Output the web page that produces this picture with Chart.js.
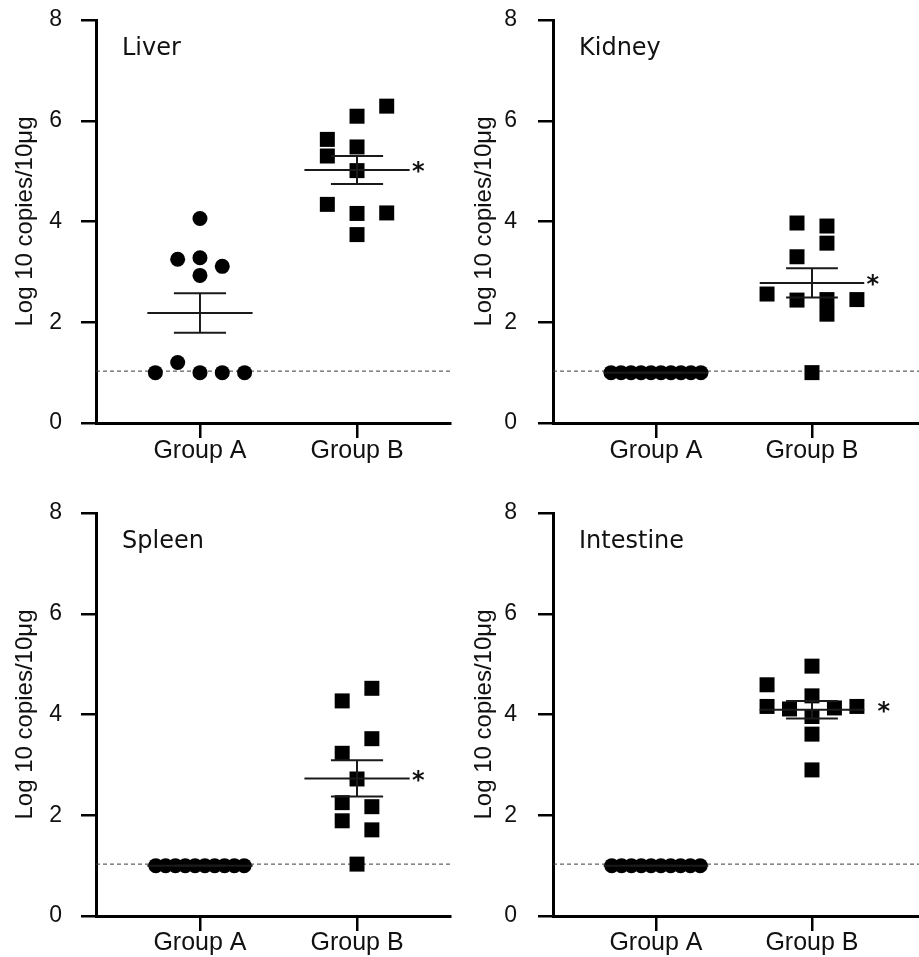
<!DOCTYPE html>
<html>
<head>
<meta charset="utf-8">
<title>Viral load by organ</title>
<script src="https://cdn.jsdelivr.net/npm/chart.js@4.4.1/dist/chart.umd.min.js"></script>
<style>
  html, body { margin: 0; padding: 0; background: #fff; overflow: hidden; }
  #figure { position: relative; width: 919px; height: 957px; }
  #figure canvas { position: absolute; }
</style>
</head>
<body>
<div id="figure">
  <canvas id="liver" width="459" height="478" style="left:0;top:0"></canvas>
  <canvas id="kidney" width="460" height="478" style="left:459px;top:0"></canvas>
  <canvas id="spleen" width="459" height="479" style="left:0;top:478px"></canvas>
  <canvas id="intestine" width="460" height="479" style="left:459px;top:478px"></canvas>
</div>
<script>
// Categories and axis
const groups = ["Group A", "Group B"]
const yTicks = [0, 2, 4, 6, 8]
const yTitle = "Log 10 copies/10μg"
const detectionLimit = 1.03

// Log10 copies per 10 µg (n = 10 per group)
const liverA = [4.06, 3.25, 3.28, 3.11, 2.93, 1.20, 1.00, 1.00, 1.00, 1.00]
const liverB = [6.29, 6.09, 5.63, 5.48, 5.30, 5.01, 4.34, 4.16, 4.17, 3.74]
const kidneyA = [1.00, 1.00, 1.00, 1.00, 1.00, 1.00, 1.00, 1.00, 1.00, 1.00]
const kidneyB = [3.97, 3.91, 3.57, 3.30, 2.56, 2.44, 2.45, 2.16, 2.45, 1.00]
const spleenA = [1.00, 1.00, 1.00, 1.00, 1.00, 1.00, 1.00, 1.00, 1.00, 1.00]
const spleenB = [4.52, 4.27, 3.52, 3.23, 2.72, 2.25, 2.17, 1.89, 1.71, 1.03]
const intestineA = [1.00, 1.00, 1.00, 1.00, 1.00, 1.00, 1.00, 1.00, 1.00, 1.00]
const intestineB = [4.96, 4.59, 4.37, 4.16, 4.11, 4.13, 4.16, 3.96, 3.61, 2.90]

// Dot column of each point inside its group, as laid out in the figure
const liverACols = [0, -1, 0, 1, 0, -1, -2, 0, 1, 2]
const liverBCols = [1, 0, -1, 0, -1, 0, -1, 0, 1, 0]
const kidneyACols = [-4.5, -3.5, -2.5, -1.5, -0.5, 0.5, 1.5, 2.5, 3.5, 4.5]
const kidneyBCols = [-0.5, 0.5, 0.5, -0.5, -1.5, -0.5, 0.5, 0.5, 1.5, 0]
const spleenACols = [-4.5, -3.5, -2.5, -1.5, -0.5, 0.5, 1.5, 2.5, 3.5, 4.5]
const spleenBCols = [0.5, -0.5, 0.5, -0.5, 0, -0.5, 0.5, -0.5, 0.5, 0]
const intestineACols = [-4.5, -3.5, -2.5, -1.5, -0.5, 0.5, 1.5, 2.5, 3.5, 4.5]
const intestineBCols = [0, -2, 0, -2, -1, 1, 2, 0, 0, 0]

const INK = "#111"
const SANS = '"Liberation Sans", Arial, sans-serif'

const panels = [
  { id: "liver", name: "Liver", a: liverA, aCols: liverACols, aStep: 0.142, b: liverB, bCols: liverBCols, bStep: 0.189,
    xMin: 0.338, xMax: 2.592, axisLeft: 96, top: 20, right: 9, bottom: 55, tickPad: 19, labelPad: -2, star: 0.39 },
  { id: "kidney", name: "Kidney", a: kidneyA, aCols: kidneyACols, aStep: 0.064, b: kidneyB, bCols: kidneyBCols, bStep: 0.192,
    xMin: 0.34, xMax: 2.686, axisLeft: 94, top: 20, right: 0, bottom: 55, tickPad: 21, labelPad: -2, star: 0.39 },
  { id: "spleen", name: "Spleen", a: spleenA, aCols: spleenACols, aStep: 0.0625, b: spleenB, bCols: spleenBCols, bStep: 0.189,
    xMin: 0.338, xMax: 2.592, axisLeft: 96, top: 35, right: 9, bottom: 41, tickPad: 19, labelPad: -3, star: 0.39 },
  { id: "intestine", name: "Intestine", a: intestineA, aCols: intestineACols, aStep: 0.063, b: intestineB, bCols: intestineBCols, bStep: 0.144,
    xMin: 0.34, xMax: 2.686, axisLeft: 94, top: 35, right: 0, bottom: 41, tickPad: 21, labelPad: -3, star: 0.46 }
]

function meanSem(vals) {
  const n = vals.length
  const mean = vals.reduce((s, v) => s + v, 0) / n
  const sd = Math.sqrt(vals.reduce((s, v) => s + (v - mean) ** 2, 0) / (n - 1))
  return { mean, sem: sd / Math.sqrt(n) }
}

function toPoints(vals, cols, group, step) {
  return vals.map((v, i) => ({ x: group + cols[i] * step, y: v }))
}

// Mean ± SEM bars, significance star and the organ name inside the plot
const figureExtras = {
  id: "figureExtras",
  afterDatasetsDraw(chart, _args, p) {
    const { ctx, chartArea } = chart
    const xs = chart.scales.x, ys = chart.scales.y
    const hline = (x0, x1, v) => {
      const py = ys.getPixelForValue(v)
      ctx.beginPath()
      ctx.moveTo(xs.getPixelForValue(x0), py)
      ctx.lineTo(xs.getPixelForValue(x1), py)
      ctx.stroke()
    }
    ctx.save()
    ctx.strokeStyle = "#1a1a1a"
    ctx.lineWidth = 2
    ;[[p.a, 1], [p.b, 2]].forEach(([vals, g]) => {
      const { mean, sem } = meanSem(vals)
      hline(g - 0.335, g + 0.335, mean)
      hline(g - 0.166, g + 0.166, mean + sem)
      hline(g - 0.166, g + 0.166, mean - sem)
      const px = xs.getPixelForValue(g)
      ctx.beginPath()
      ctx.moveTo(px, ys.getPixelForValue(mean + sem))
      ctx.lineTo(px, ys.getPixelForValue(mean - sem))
      ctx.stroke()
    })

    const meanB = meanSem(p.b).mean
    ctx.fillStyle = INK
    ctx.font = 'bold 24px "DejaVu Sans"'
    ctx.textAlign = "center"
    ctx.textBaseline = "middle"
    ctx.fillText("*", xs.getPixelForValue(2 + p.star), ys.getPixelForValue(meanB) + 3)

    ctx.font = '24px "DejaVu Sans"'
    ctx.textAlign = "left"
    ctx.textBaseline = "alphabetic"
    ctx.fillText(p.name, chartArea.left + 26, chartArea.top + 35)
    ctx.restore()
  }
}

function buildPanel(p) {
  const ctx = document.getElementById(p.id).getContext("2d")
  return new Chart(ctx, {
    type: "scatter",
    data: {
      datasets: [
        {
          label: groups[0],
          data: toPoints(p.a, p.aCols, 1, p.aStep),
          pointStyle: "circle",
          pointRadius: 7.5,
          backgroundColor: "#000",
          borderWidth: 0
        },
        {
          label: groups[1],
          data: toPoints(p.b, p.bCols, 2, p.bStep),
          pointStyle: "rect",
          pointRadius: 10.6,
          backgroundColor: "#000",
          borderWidth: 0
        },
        {
          type: "line",
          label: "Detection limit",
          data: [{ x: p.xMin, y: detectionLimit }, { x: p.xMax, y: detectionLimit }],
          borderColor: "#3a3a3a",
          borderWidth: 1,
          borderDash: [4, 3],
          pointRadius: 0,
          showLine: true
        }
      ]
    },
    options: {
      responsive: false,
      animation: false,
      devicePixelRatio: 1,
      layout: { autoPadding: false, padding: { top: p.top, right: p.right, left: 0, bottom: 0 } },
      scales: {
        x: {
          type: "linear",
          min: p.xMin,
          max: p.xMax,
          afterBuildTicks: s => { s.ticks = groups.map((_, i) => ({ value: i + 1 })) },
          afterFit: s => { s.height = p.bottom; s.paddingLeft = 0; s.paddingRight = 0 },
          ticks: {
            callback: v => groups[v - 1],
            font: { family: SANS, size: 25 },
            color: INK,
            padding: p.labelPad,
            maxRotation: 0,
            autoSkip: false
          },
          grid: { drawOnChartArea: false, drawTicks: true, tickLength: 15, lineWidth: 2.5, color: "#000" },
          border: { display: true, width: 3, color: "#000" }
        },
        y: {
          min: 0,
          max: 8,
          afterBuildTicks: s => { s.ticks = yTicks.map(v => ({ value: v })) },
          // fixed axis width; drop the label overhang so the plot top stays put
          afterFit: s => { s.width = p.axisLeft; s.paddingTop = 0; s.paddingBottom = 0 },
          ticks: { font: { family: SANS, size: 23 }, color: INK, padding: p.tickPad },
          grid: { drawOnChartArea: false, drawTicks: true, tickLength: 15, lineWidth: 2.5, color: "#000" },
          border: { display: true, width: 3, color: "#000" },
          title: {
            display: true,
            text: yTitle,
            font: { family: SANS, size: 24 },
            color: INK,
            padding: { top: 11, bottom: 0 }
          }
        }
      },
      plugins: {
        legend: { display: false },
        tooltip: { enabled: false },
        figureExtras: p
      }
    },
    plugins: [figureExtras]
  })
}

panels.forEach(buildPanel)
</script>
</body>
</html>
